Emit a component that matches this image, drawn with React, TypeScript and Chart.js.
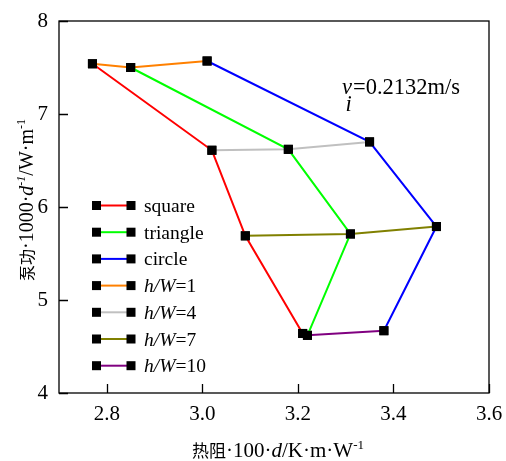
import { useEffect, useRef } from 'react';
import { Chart, registerables } from 'chart.js';

Chart.register(...registerables);

// ---- data ----
const familyLabels = ['square', 'triangle', 'circle'];
const familyColors = ['#ff0000', '#00ff00', '#0000ff'];
const squareX = [2.77, 3.02, 3.09, 3.21];
const squareY = [7.54, 6.61, 5.69, 4.64];
const triangleX = [2.85, 3.18, 3.31, 3.22];
const triangleY = [7.5, 6.62, 5.71, 4.62];
const circleX = [3.01, 3.35, 3.49, 3.38];
const circleY = [7.57, 6.7, 5.79, 4.67];
const ratioLabels = ['h/W=1', 'h/W=4', 'h/W=7', 'h/W=10'];
const ratioColors = ['#ff8000', '#c0c0c0', '#808000', '#800080'];
const xTicks = [2.8, 3.0, 3.2, 3.4, 3.6];
const yTicks = [4, 5, 6, 7, 8];
const annotation = '=0.2132m/s';

const SERIF = '"Liberation Serif", "Times New Roman", "Noto Sans CJK SC", serif';
const CJK = '"Noto Sans CJK SC", "Liberation Serif", serif';

type Seg = { t: string; i?: boolean; sup?: boolean; cjk?: boolean };

function segFont(s: Seg, size: number) {
  if (s.cjk) return `${Math.round(size * 0.82)}px ${CJK}`;
  const sz = s.sup ? Math.round(size * 0.6) : size;
  return `${s.i ? 'italic ' : ''}${sz}px ${SERIF}`;
}

function drawRich(ctx: CanvasRenderingContext2D, segs: Seg[], cx: number, baseline: number, size: number) {
  let total = 0;
  for (const s of segs) {
    ctx.font = segFont(s, size);
    total += ctx.measureText(s.t).width;
  }
  let x = cx - total / 2;
  ctx.textAlign = 'left';
  ctx.textBaseline = 'alphabetic';
  for (const s of segs) {
    ctx.font = segFont(s, size);
    ctx.fillText(s.t, x, s.sup ? baseline - size * 0.4 : baseline);
    x += ctx.measureText(s.t).width;
  }
}

const xTitle: Seg[] = [
  { t: '热阻', cjk: true },
  { t: '·100·' },
  { t: 'd', i: true },
  { t: '/K·m·W' },
  { t: '-1', sup: true },
];
const yTitle: Seg[] = [
  { t: '泵功', cjk: true },
  { t: '·1000·' },
  { t: 'd', i: true },
  { t: '-1', sup: true, i: true },
  { t: '/W·m' },
  { t: '-1', sup: true },
];

const decorPlugin = {
  id: 'decor',
  afterDraw(chart: any) {
    const ctx: CanvasRenderingContext2D = chart.ctx;
    const { left, right, top, bottom } = chart.chartArea;
    const xs = chart.scales.x;
    const ys = chart.scales.y;
    ctx.save();
    // box
    ctx.strokeStyle = '#000';
    ctx.lineWidth = 1.3;
    ctx.strokeRect(left, top, right - left, bottom - top);
    // inward ticks
    ctx.beginPath();
    for (const v of xTicks) {
      const px = Math.round(xs.getPixelForValue(v)) + 0.5;
      ctx.moveTo(px, bottom);
      ctx.lineTo(px, bottom - 9);
    }
    for (const v of yTicks) {
      const py = Math.round(ys.getPixelForValue(v)) + 0.5;
      ctx.moveTo(left, py);
      ctx.lineTo(left + 9, py);
    }
    ctx.stroke();

    // legend
    const rowY0 = 205.5;
    const rowGap = 26.7;
    chart.data.datasets.forEach((ds: any, idx: number) => {
      const y = rowY0 + idx * rowGap;
      ctx.strokeStyle = ds.borderColor;
      ctx.lineWidth = 2;
      ctx.beginPath();
      ctx.moveTo(100, y);
      ctx.lineTo(127, y);
      ctx.stroke();
      ctx.fillStyle = '#000';
      ctx.fillRect(92, y - 4.5, 9, 9);
      ctx.fillRect(126.5, y - 4.5, 9, 9);
      const label: string = ds.label;
      ctx.textAlign = 'left';
      ctx.textBaseline = 'alphabetic';
      let tx = 144;
      const by = y + 6.5;
      const fs = 19.5;
      if (label.startsWith('h/W')) {
        ctx.font = `italic ${fs}px ${SERIF}`;
        ctx.fillText('h/W', tx, by);
        tx += ctx.measureText('h/W').width;
        ctx.font = `${fs}px ${SERIF}`;
        ctx.fillText(label.slice(3), tx, by);
      } else {
        ctx.font = `${fs}px ${SERIF}`;
        ctx.fillText(label, tx, by);
      }
    });

    // annotation
    ctx.fillStyle = '#000';
    ctx.textAlign = 'left';
    ctx.textBaseline = 'alphabetic';
    ctx.font = `italic 22.5px ${SERIF}`;
    ctx.fillText('v', 342, 94);
    ctx.fillText('i', 345.5, 111);
    ctx.font = `22.5px ${SERIF}`;
    ctx.fillText(annotation, 353, 94);

    // axis titles
    drawRich(ctx, xTitle, (left + right) / 2 + 4, 457, 21);
    ctx.save();
    ctx.translate(33, 200);
    ctx.rotate(-Math.PI / 2);
    drawRich(ctx, yTitle, 0, 0, 20);
    ctx.restore();

    ctx.restore();
  },
};

function buildDatasets() {
  const famX = [squareX, triangleX, circleX];
  const famY = [squareY, triangleY, circleY];
  const common = {
    showLine: true,
    borderWidth: 2,
    pointStyle: 'rect',
    pointRadius: 6.4,
    pointBackgroundColor: '#000',
    pointBorderColor: '#000',
    pointBorderWidth: 0,
    tension: 0,
  };
  const fam = familyLabels.map((label, f) => ({
    ...common,
    label,
    borderColor: familyColors[f],
    backgroundColor: familyColors[f],
    data: famX[f].map((x, k) => ({ x, y: famY[f][k] })),
  }));
  const rat = ratioLabels.map((label, r) => ({
    ...common,
    label,
    borderColor: ratioColors[r],
    backgroundColor: ratioColors[r],
    data: famX.map((xs, f) => ({ x: xs[r], y: famY[f][r] })),
  }));
  return [...fam, ...rat];
}

export default function App() {
  const ref = useRef<HTMLCanvasElement | null>(null);
  useEffect(() => {
    if (!ref.current) return;
    const chart = new Chart(ref.current, {
      type: 'scatter',
      data: { datasets: buildDatasets() as any },
      options: {
        responsive: false,
        animation: false,
        layout: { padding: { top: 21, right: 17, left: 0, bottom: 0 } },
        plugins: { legend: { display: false }, tooltip: { enabled: false } },
        scales: {
          x: {
            type: 'linear',
            min: 2.7,
            max: 3.6,
            afterFit: (s: any) => {
              s.height = 68;
            },
            afterBuildTicks: (s: any) => {
              s.ticks = xTicks.map((v) => ({ value: v }));
            },
            grid: {
              display: true,
              drawOnChartArea: false,
              drawTicks: true,
              tickLength: 9,
              tickColor: 'rgba(0,0,0,0)',
            },
            border: { display: false },
            ticks: {
              font: { family: SERIF, size: 21 },
              color: '#000',
              padding: 0,
              maxRotation: 0,
              autoSkip: false,
              callback: (v: any) => Number(v).toFixed(1),
            },
          },
          y: {
            type: 'linear',
            min: 4,
            max: 8,
            afterFit: (s: any) => {
              s.width = 59;
            },
            afterBuildTicks: (s: any) => {
              s.ticks = yTicks.map((v) => ({ value: v }));
            },
            grid: {
              display: true,
              drawOnChartArea: false,
              drawTicks: true,
              tickLength: 11,
              tickColor: 'rgba(0,0,0,0)',
            },
            border: { display: false },
            ticks: {
              font: { family: SERIF, size: 21 },
              color: '#000',
              padding: 0,
              autoSkip: false,
              callback: (v: any) => String(v),
            },
          },
        },
      },
      plugins: [decorPlugin],
    });
    return () => chart.destroy();
  }, []);
  return (
    <canvas
      ref={ref}
      width={506}
      height={461}
      style={{ position: 'absolute', left: 0, top: 0, background: '#fff' }}
    />
  );
}
